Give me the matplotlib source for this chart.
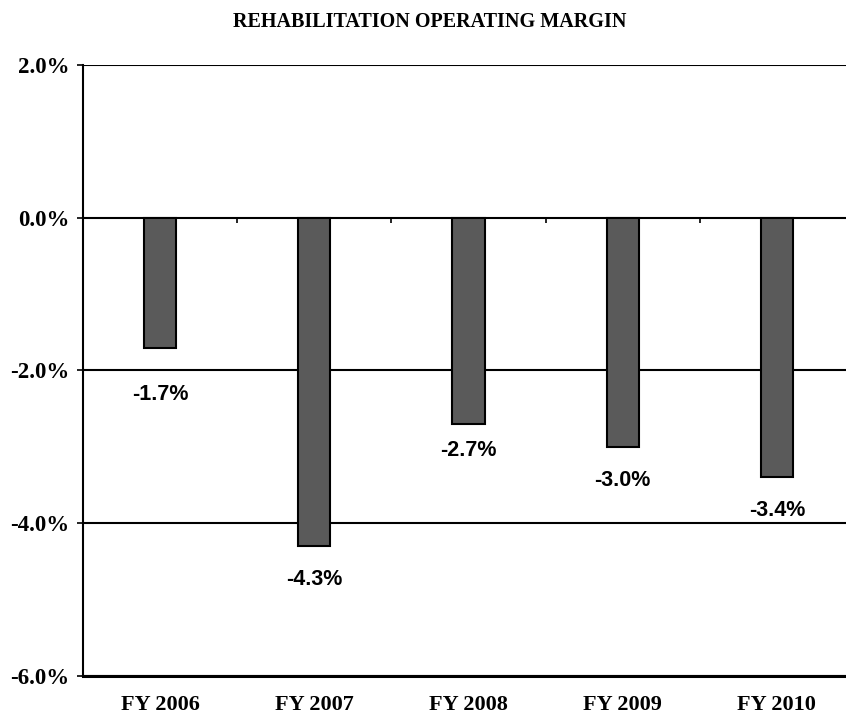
import matplotlib
matplotlib.use("Agg")
import matplotlib.pyplot as plt
import numpy as np

# Data
categories = ["FY 2006", "FY 2007", "FY 2008", "FY 2009", "FY 2010"]
margins = [-1.7, -4.3, -2.7, -3.0, -3.4]
y_ticks = [2.0, 0.0, -2.0, -4.0, -6.0]
title = "REHABILITATION OPERATING MARGIN"

# per-label vertical offsets below bar end (points) - styling only
label_offsets_pt = [34, 24, 19, 24, 24]

fig = plt.figure(figsize=(8.46, 7.17), dpi=100)
ax = fig.add_axes([0.0981, 0.0572, 0.9114, 0.8522])

x = np.arange(len(categories))
bars = ax.bar(x, margins, width=0.21, color="#5a5a5a", edgecolor="black",
              linewidth=1.5, zorder=3)

ax.set_xlim(-0.5, len(categories) - 0.5)
ax.set_ylim(min(y_ticks), max(y_ticks))
ax.set_yticks(y_ticks)
ax.set_yticklabels([f"{v:.1f}%" for v in y_ticks],
                   fontfamily="Liberation Serif", fontweight="bold", fontsize=16.5)
ax.set_xticks(x)
ax.set_xticklabels(categories, fontfamily="Liberation Serif",
                   fontweight="bold", fontsize=16)
ax.tick_params(axis="x", length=0, pad=14)
ax.tick_params(axis="y", length=4, width=1.2, pad=6, direction="out")

# horizontal gridlines
for v in y_ticks:
    ax.axhline(v, color="black", linewidth=1.5, zorder=2)

# category boundary tick marks on zero line
ax.vlines(np.arange(len(categories)) + 0.5, 0, -0.07, color="black",
          linewidth=1.2, zorder=2)

for s in ["top", "right"]:
    ax.spines[s].set_visible(False)
ax.spines["left"].set_linewidth(1.5)
ax.spines["bottom"].set_linewidth(2.2)

for xi, v, off in zip(x, margins, label_offsets_pt):
    ax.annotate(f"{v:.1f}%", (xi, v), xytext=(0, -off),
                textcoords="offset points", ha="center", va="center",
                fontfamily="Liberation Sans", fontweight="bold", fontsize=15.5,
                zorder=4)

fig.text(0.508, 0.970, title, ha="center", va="center",
         fontfamily="Liberation Serif", fontweight="bold", fontsize=14.5)

fig.savefig("out.png", dpi=100)
